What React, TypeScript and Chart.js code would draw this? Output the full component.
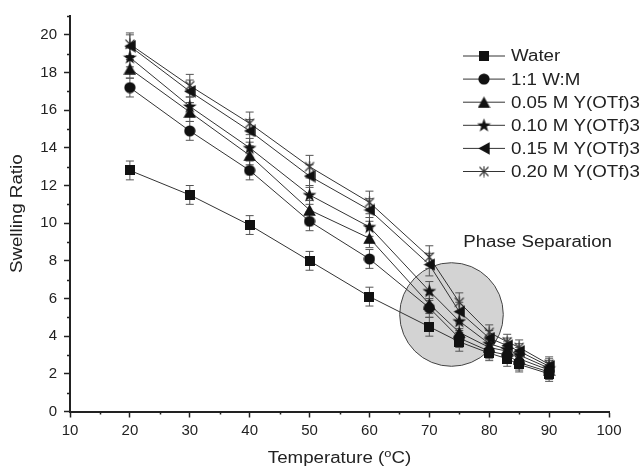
import { useEffect, useRef } from "react";
import { Chart, registerables } from "chart.js";
Chart.register(...registerables);

// ---------- data ----------
const temperatures = [20, 30, 40, 50, 60, 70, 75, 80, 83, 85, 90];
const seriesLabels = [
  "Water",
  "1:1 W:M",
  "0.05 M Y(OTf)3",
  "0.10 M Y(OTf)3",
  "0.15 M Y(OTf)3",
  "0.20 M Y(OTf)3",
];
const water = [12.8, 11.5, 9.9, 8.0, 6.1, 4.5, 3.7, 3.1, 2.8, 2.5, 2.0];
const waterMethanol = [17.2, 14.9, 12.8, 10.1, 8.1, 5.5, 3.9, 3.2, 3.0, 2.6, 2.1];
const y005 = [18.2, 15.9, 13.6, 10.7, 9.2, 5.7, 4.2, 3.4, 3.2, 2.8, 2.2];
const y010 = [18.8, 16.2, 14.0, 11.5, 9.8, 6.4, 4.8, 3.6, 3.3, 3.0, 2.3];
const y015 = [19.4, 17.0, 14.9, 12.5, 10.7, 7.8, 5.3, 3.9, 3.5, 3.2, 2.4];
const y020 = [19.5, 17.3, 15.3, 13.0, 11.1, 8.2, 5.8, 4.2, 3.7, 3.4, 2.5];

const waterErr = [0.5, 0.5, 0.5, 0.5, 0.5, 0.5, 0.5, 0.4, 0.4, 0.4, 0.4];
const waterMethanolErr = [0.5, 0.5, 0.5, 0.5, 0.5, 0.5, 0.5, 0.4, 0.4, 0.4, 0.4];
const y005Err = [0.5, 0.5, 0.5, 0.5, 0.5, 0.5, 0.5, 0.4, 0.4, 0.4, 0.4];
const y010Err = [0.5, 0.5, 0.5, 0.5, 0.5, 0.5, 0.5, 0.4, 0.4, 0.4, 0.4];
const y015Err = [0.6, 0.6, 0.6, 0.6, 0.6, 0.6, 0.5, 0.4, 0.4, 0.4, 0.4];
const y020Err = [0.6, 0.6, 0.6, 0.6, 0.6, 0.6, 0.5, 0.4, 0.4, 0.4, 0.4];

const xTicksMajor = [10, 20, 30, 40, 50, 60, 70, 80, 90, 100];
const yTicksMajor = [0, 2, 4, 6, 8, 10, 12, 14, 16, 18, 20];

const yTitle = "Swelling Ratio";
const xTitleParts = ["Temperature (", "o", "C)"];
const phaseLabel = "Phase Separation";
const phaseCenter = { x: 73.7, y: 5.15 };
const phaseRadiusX = 8.65; // in °C units

const allSeries = [water, waterMethanol, y005, y010, y015, y020];
const allErrors = [waterErr, waterMethanolErr, y005Err, y010Err, y015Err, y020Err];
const markerKinds = ["square", "circle", "triangle", "star", "leftTriangle", "asterisk"];

const FONT = "'Liberation Sans', Arial, sans-serif";
const MARK = "#111";
const STRETCH = 1.17;

function makeMarker(kind: string): HTMLCanvasElement {
  const c = document.createElement("canvas");
  let w = 12, h = 12;
  if (kind === "square") { w = 10; h = 10; }
  if (kind === "triangle") { w = 13; h = 12; }
  if (kind === "star") { w = 15; h = 15; }
  if (kind === "leftTriangle") { w = 12; h = 13; }
  c.width = w; c.height = h;
  const ctx = c.getContext("2d")!;
  ctx.fillStyle = MARK;
  ctx.strokeStyle = MARK;
  if (kind === "square") {
    ctx.fillRect(0, 0, 10, 10);
  } else if (kind === "circle") {
    ctx.beginPath(); ctx.arc(6, 6, 5.6, 0, Math.PI * 2); ctx.fill();
  } else if (kind === "triangle") {
    ctx.beginPath(); ctx.moveTo(6.5, 0.3); ctx.lineTo(12.8, 11.7); ctx.lineTo(0.2, 11.7); ctx.closePath(); ctx.fill();
  } else if (kind === "leftTriangle") {
    ctx.beginPath(); ctx.moveTo(0.3, 6.5); ctx.lineTo(11.7, 0.2); ctx.lineTo(11.7, 12.8); ctx.closePath(); ctx.fill();
  } else if (kind === "star") {
    ctx.beginPath();
    for (let i = 0; i < 10; i++) {
      const r = i % 2 === 0 ? 7.3 : 2.9;
      const a = -Math.PI / 2 + (i * Math.PI) / 5;
      const px = 7.5 + r * Math.cos(a);
      const py = 7.9 + r * Math.sin(a);
      if (i === 0) ctx.moveTo(px, py); else ctx.lineTo(px, py);
    }
    ctx.closePath(); ctx.fill();
  } else if (kind === "asterisk") {
    ctx.strokeStyle = "#333";
    ctx.lineWidth = 1.1;
    ctx.beginPath();
    ctx.moveTo(6, 0.5); ctx.lineTo(6, 11.5);
    ctx.moveTo(1.5, 1.5); ctx.lineTo(10.5, 10.5);
    ctx.moveTo(1.5, 10.5); ctx.lineTo(10.5, 1.5);
    ctx.stroke();
  }
  return c;
}

function stretchedText(ctx: CanvasRenderingContext2D, text: string, x: number, y: number, align: CanvasTextAlign, baseline: CanvasTextBaseline, rotate = 0) {
  ctx.save();
  ctx.translate(x, y);
  if (rotate) ctx.rotate(rotate);
  ctx.scale(STRETCH, 1);
  ctx.textAlign = align;
  ctx.textBaseline = baseline;
  ctx.fillText(text, 0, 0);
  ctx.restore();
}

export default function App() {
  const ref = useRef<HTMLCanvasElement | null>(null);

  useEffect(() => {
    document.body.style.margin = "0";
    const markers = markerKinds.map(makeMarker);

    const datasets = allSeries.map((vals, i) => ({
      label: seriesLabels[i],
      data: temperatures.map((t, j) => ({ x: t, y: vals[j] })),
      borderColor: "#333",
      borderWidth: 1,
      backgroundColor: MARK,
      pointStyle: markers[i] as any,
      pointRadius: 5,
      tension: 0,
      fill: false,
    }));

    const phasePlugin = {
      id: "phase",
      beforeDatasetsDraw(chart: any) {
        const { ctx, scales } = chart;
        const xs = scales.x, ys = scales.y;
        const cx = xs.getPixelForValue(phaseCenter.x);
        const cy = ys.getPixelForValue(phaseCenter.y);
        const r = xs.getPixelForValue(phaseCenter.x + phaseRadiusX) - cx;
        ctx.save();
        ctx.beginPath();
        ctx.arc(cx, cy, r, 0, Math.PI * 2);
        ctx.fillStyle = "#d3d3d3";
        ctx.fill();
        ctx.strokeStyle = "#444";
        ctx.lineWidth = 1;
        ctx.stroke();
        // error bars
        ctx.strokeStyle = "#555";
        ctx.lineWidth = 1;
        allSeries.forEach((vals, i) => {
          temperatures.forEach((t, j) => {
            const px = xs.getPixelForValue(t);
            const top = ys.getPixelForValue(vals[j] + allErrors[i][j]);
            const bot = ys.getPixelForValue(vals[j] - allErrors[i][j]);
            ctx.beginPath();
            ctx.moveTo(px, top); ctx.lineTo(px, bot);
            ctx.moveTo(px - 4, top); ctx.lineTo(px + 4, top);
            ctx.moveTo(px - 4, bot); ctx.lineTo(px + 4, bot);
            ctx.stroke();
          });
        });
        ctx.restore();
      },
      afterDraw(chart: any) {
        const { ctx, scales, chartArea } = chart;
        const xs = scales.x, ys = scales.y;
        ctx.save();
        // minor ticks
        ctx.strokeStyle = "#222";
        ctx.lineWidth = 1.5;
        ctx.beginPath();
        for (let v = 1; v <= 21; v += 2) {
          const py = Math.round(ys.getPixelForValue(v)) + 0.5;
          ctx.moveTo(chartArea.left - 3, py); ctx.lineTo(chartArea.left, py);
        }
        for (let v = 15; v < 100; v += 10) {
          const px = Math.round(xs.getPixelForValue(v)) + 0.5;
          ctx.moveTo(px, chartArea.bottom); ctx.lineTo(px, chartArea.bottom + 3);
        }
        ctx.stroke();

        ctx.fillStyle = "#222";
        ctx.font = `16px ${FONT}`;

        // phase label
        stretchedText(ctx, phaseLabel, 612, 246.5, "right", "alphabetic");

        // legend
        seriesLabels.forEach((lab, i) => {
          const ly = 56 + i * 23.1;
          ctx.strokeStyle = "#333";
          ctx.lineWidth = 1;
          ctx.beginPath();
          ctx.moveTo(463, ly); ctx.lineTo(505, ly);
          ctx.stroke();
          const m = markers[i];
          ctx.drawImage(m, 484 - m.width / 2, ly - m.height / 2);
          ctx.fillStyle = "#222";
          ctx.font = `16px ${FONT}`;
          stretchedText(ctx, lab, 511, ly + 1, "left", "middle");
        });

        // y title
        ctx.font = `16px ${FONT}`;
        stretchedText(ctx, yTitle, 18, (chartArea.top + chartArea.bottom) / 2, "center", "middle", -Math.PI / 2);

        // x title with superscript
        const base = `16px ${FONT}`;
        const small = `11px ${FONT}`;
        ctx.font = base;
        const w1 = ctx.measureText(xTitleParts[0]).width * STRETCH;
        const w3 = ctx.measureText(xTitleParts[2]).width * STRETCH;
        ctx.font = small;
        const w2 = ctx.measureText(xTitleParts[1]).width * STRETCH;
        const total = w1 + w2 + w3;
        let sx = (chartArea.left + chartArea.right) / 2 - total / 2;
        const by = 463;
        ctx.font = base;
        stretchedText(ctx, xTitleParts[0], sx, by, "left", "alphabetic");
        sx += w1;
        ctx.font = small;
        stretchedText(ctx, xTitleParts[1], sx, by - 6.5, "left", "alphabetic");
        sx += w2;
        ctx.font = base;
        stretchedText(ctx, xTitleParts[2], sx, by, "left", "alphabetic");
        ctx.restore();
      },
    };

    const chart = new Chart(ref.current!, {
      type: "line",
      data: { datasets },
      options: {
        animation: false,
        responsive: true,
        maintainAspectRatio: false,
        layout: { padding: { top: 10.6, right: 35, left: 0, bottom: 0 } },
        plugins: { legend: { display: false }, tooltip: { enabled: false } },
        scales: {
          x: {
            type: "linear",
            min: 10,
            max: 100,
            afterFit: (s: any) => { s.height = 55.5; },
            afterBuildTicks: (s: any) => { s.ticks = xTicksMajor.map((v) => ({ value: v })); },
            ticks: {
              color: "#222",
              font: { family: FONT, size: 15 },
              padding: 4,
              maxRotation: 0,
              autoSkip: false,
            },
            grid: { drawOnChartArea: false, drawTicks: true, tickLength: 6, color: "#222", tickWidth: 1.5 },
            border: { display: true, color: "#222", width: 2 },
          },
          y: {
            type: "linear",
            min: 0,
            max: 21,
            afterFit: (s: any) => { s.width = 70; },
            afterBuildTicks: (s: any) => { s.ticks = yTicksMajor.map((v) => ({ value: v })); },
            ticks: {
              color: "#222",
              font: { family: FONT, size: 15 },
              padding: 7,
              autoSkip: false,
            },
            grid: { drawOnChartArea: false, drawTicks: true, tickLength: 6, color: "#222", tickWidth: 1.5 },
            border: { display: true, color: "#222", width: 2 },
          },
        },
      },
      plugins: [phasePlugin],
    });
    return () => chart.destroy();
  }, []);

  return (
    <div style={{ width: 644, height: 467, position: "relative" }}>
      <canvas ref={ref} />
    </div>
  );
}
